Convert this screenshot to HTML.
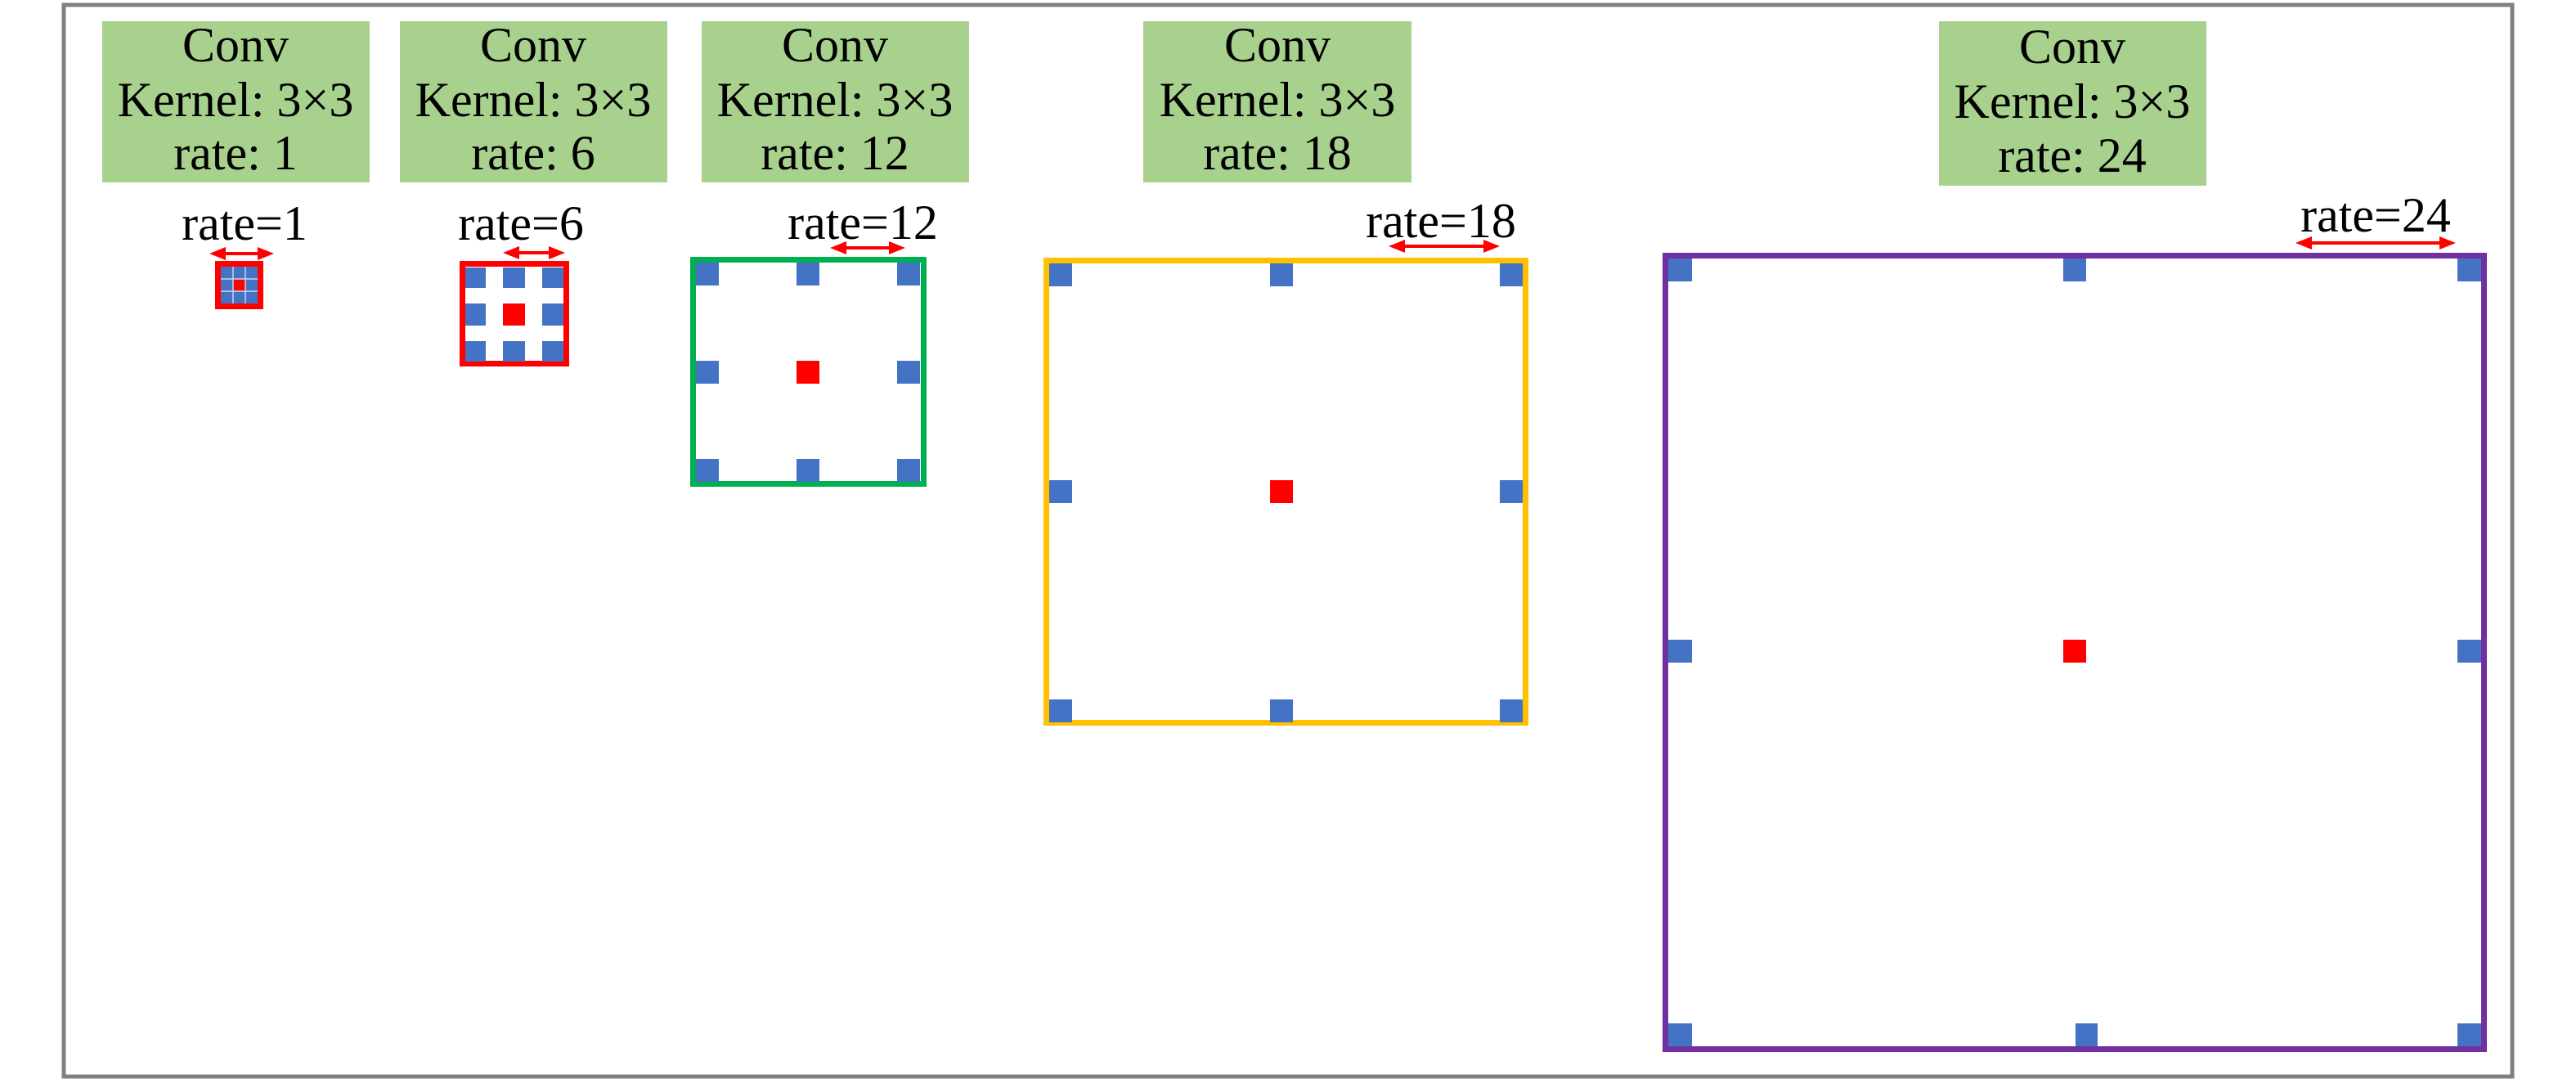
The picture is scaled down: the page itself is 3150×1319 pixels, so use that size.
<!DOCTYPE html>
<html><head><meta charset="utf-8"><style>
html,body{margin:0;padding:0;background:#fff;}
svg{display:block;}
</style></head><body>
<svg width="3150" height="1319" viewBox="0 0 3150 1319" xmlns="http://www.w3.org/2000/svg">
<rect x="78" y="6" width="2994" height="1310" fill="#fff" stroke="#808080" stroke-width="5"/>

<!-- green boxes -->
<g fill="#a9d18e">
<rect x="125" y="26" width="327" height="197"/>
<rect x="489" y="26" width="327" height="197"/>
<rect x="858" y="26" width="327" height="197"/>
<rect x="1398" y="26" width="328" height="197"/>
<rect x="2371" y="26" width="327" height="201"/>
</g>
<g font-family="'Liberation Serif', 'DejaVu Serif', serif" font-size="60" fill="#000" text-anchor="middle">
<text x="288" y="75">Conv</text><text x="288" y="142">Kernel: 3×3</text><text x="288" y="207">rate: 1</text>
<text x="652" y="75">Conv</text><text x="652" y="142">Kernel: 3×3</text><text x="652" y="207">rate: 6</text>
<text x="1021" y="75">Conv</text><text x="1021" y="142">Kernel: 3×3</text><text x="1021" y="207">rate: 12</text>
<text x="1562" y="75">Conv</text><text x="1562" y="142">Kernel: 3×3</text><text x="1562" y="207">rate: 18</text>
<text x="2534" y="77">Conv</text><text x="2534" y="144">Kernel: 3×3</text><text x="2534" y="210">rate: 24</text>
<text x="299" y="293">rate=1</text>
<text x="637" y="293">rate=6</text>
<text x="1055" y="292">rate=12</text>
<text x="1762" y="290">rate=18</text>
<text x="2905" y="283">rate=24</text>
</g>

<!-- arrows -->
<g fill="#ff0000">
<path d="M256 310 L276 302 L276 308 L315 308 L315 302 L335 310 L315 318 L315 312 L276 312 L276 318 Z"/>
<path d="M615 309 L635 301 L635 307 L671 307 L671 301 L691 309 L671 317 L671 311 L635 311 L635 317 Z"/>
<path d="M1015 303 L1035 295 L1035 301 L1087 301 L1087 295 L1107 303 L1087 311 L1087 305 L1035 305 L1035 311 Z"/>
<path d="M1698 301 L1718 293 L1718 299 L1814 299 L1814 293 L1834 301 L1814 309 L1814 303 L1718 303 L1718 309 Z"/>
<path d="M2807 297 L2827 289 L2827 295 L2983 295 L2983 289 L3003 297 L2983 305 L2983 299 L2827 299 L2827 305 Z"/>
</g>

<!-- S1 -->
<rect x="266.5" y="322.5" width="52" height="52" fill="#4472c4" stroke="#ff0000" stroke-width="7"/>
<rect x="285" y="341" width="15" height="15" fill="#ff0000"/>
<g stroke="#c9d6ef" stroke-width="1.5">
<line x1="285" y1="326" x2="285" y2="371"/><line x1="300" y1="326" x2="300" y2="371"/>
<line x1="270" y1="341" x2="315" y2="341"/><line x1="270" y1="356" x2="315" y2="356"/>
</g>

<!-- S2 -->
<rect x="565.5" y="322.5" width="127" height="122" fill="#fff" stroke="#ff0000" stroke-width="7"/>
<g fill="#4472c4">
<rect x="569" y="327" width="25" height="25"/><rect x="615" y="327" width="27" height="25"/><rect x="663" y="327" width="26" height="25"/>
<rect x="569" y="371" width="25" height="27"/><rect x="663" y="371" width="26" height="27"/>
<rect x="569" y="417" width="25" height="25"/><rect x="615" y="417" width="27" height="25"/><rect x="663" y="417" width="26" height="25"/>
</g>
<rect x="615" y="371" width="27" height="27" fill="#ff0000"/>

<!-- S3 -->
<rect x="847.5" y="317.5" width="282" height="274" fill="#fff" stroke="#00b050" stroke-width="7"/>
<g fill="#4472c4">
<rect x="851" y="321" width="28" height="28"/><rect x="974" y="321" width="28" height="28"/><rect x="1097" y="321" width="28" height="28"/>
<rect x="851" y="441" width="28" height="28"/><rect x="1097" y="441" width="28" height="28"/>
<rect x="851" y="561" width="28" height="28"/><rect x="974" y="561" width="28" height="28"/><rect x="1097" y="561" width="28" height="28"/>
</g>
<rect x="974" y="441" width="28" height="28" fill="#ff0000"/>

<!-- S4 -->
<rect x="1279.5" y="318.5" width="586" height="565" fill="#fff" stroke="#ffc000" stroke-width="7"/>
<g fill="#4472c4">
<rect x="1283" y="322" width="28" height="28"/><rect x="1553" y="322" width="28" height="28"/><rect x="1834" y="322" width="28" height="28"/>
<rect x="1283" y="587" width="28" height="28"/><rect x="1834" y="587" width="28" height="28"/>
<rect x="1283" y="855" width="28" height="28"/><rect x="1553" y="855" width="28" height="28"/><rect x="1834" y="855" width="28" height="28"/>
</g>
<rect x="1553" y="587" width="28" height="28" fill="#ff0000"/>

<!-- S5 -->
<rect x="2036.5" y="312.5" width="1001" height="970" fill="#fff" stroke="#7030a0" stroke-width="7"/>
<g fill="#4472c4">
<rect x="2040" y="316" width="29" height="28"/><rect x="2523" y="316" width="28" height="28"/><rect x="3005" y="316" width="29" height="28"/>
<rect x="2040" y="782" width="29" height="28"/><rect x="3005" y="782" width="29" height="28"/>
<rect x="2040" y="1251" width="29" height="28"/><rect x="2538" y="1251" width="27" height="28"/><rect x="3005" y="1251" width="29" height="28"/>
</g>
<rect x="2523" y="782" width="28" height="28" fill="#ff0000"/>
</svg>
</body></html>
